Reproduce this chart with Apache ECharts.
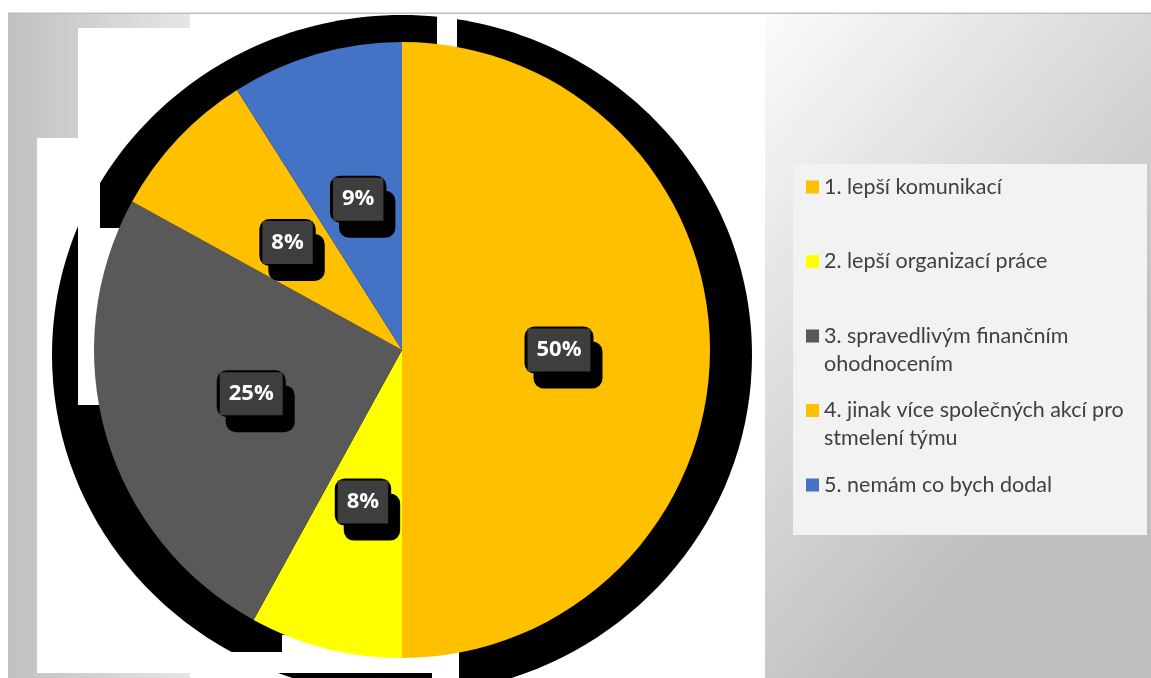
<!DOCTYPE html>
<html><head><meta charset="utf-8">
<script src="https://cdn.jsdelivr.net/npm/echarts@6/dist/echarts.min.js"></script>
<style>html,body{margin:0;padding:0;background:#fff}#c{width:1151px;height:678px}</style>
</head><body><div id="c"></div>
<script>
// Data
const categories = [
  '1. lepší komunikací',
  '2. lepší organizací práce',
  '3. spravedlivým finančním\nohodnocením',
  '4. jinak více společných akcí pro\nstmelení týmu',
  '5. nemám co bych dodal'
];
const values = [50, 8, 25, 8, 9];
const palette = ['#FFC000', '#FFFF00', '#595959', '#FFC000', '#4472C4'];

const chart = echarts.init(document.getElementById('c'), null, {renderer: 'canvas'});

function rect(x1, y1, x2, y2, fill, z) {
  return {type: 'rect', silent: true, z: z, shape: {x: x1, y: y1, width: x2 - x1, height: y2 - y1}, style: {fill: fill}};
}

const graphics = [
  rect(8, 12.5, 1151, 14, '#bfbfbf', 1),
  rect(8, 14, 1151, 678, new echarts.graphic.LinearGradient(0, 0, 1, 0, [
    {offset: 0, color: '#c0c0c0'}, {offset: 0.16, color: '#e6e6e6'},
    {offset: 0.66, color: '#f9f9f9'}, {offset: 1, color: '#c2c2c2'}]), 1),
  rect(762, 14, 1151, 678, new echarts.graphic.LinearGradient(0, 0, 1, 0.5, [
    {offset: 0, color: '#fbfbfb'}, {offset: 1, color: '#bfbfbf'}]), 2),
  // white plot region
  rect(37, 138, 765, 673, '#ffffff', 3),
  rect(80, 28, 765, 673, '#ffffff', 3),
  rect(190, 14, 765, 678, '#ffffff', 3),
  // black backdrop behind the pie
  {type: 'ellipse', silent: true, z: 4, shape: {cx: 402, cy: 355, rx: 350, ry: 340}, style: {fill: '#000'}},
  // white cut-outs in the backdrop
  rect(78, 28, 100, 228, '#ffffff', 5),
  rect(78, 228, 120, 405, '#ffffff', 5),
  rect(437, 14, 457, 47, '#ffffff', 5),
  rect(282, 635, 459, 673, '#ffffff', 5),
  rect(37, 652, 459, 673, '#ffffff', 5),
  rect(432, 673, 459, 678, '#ffffff', 5),
  // legend box
  rect(793, 164, 1147, 535, '#f2f2f2', 6)
];

const option = {
  animation: false,
  backgroundColor: '#ffffff',
  graphic: graphics,
  legend: {
    orient: 'vertical',
    left: 806,
    top: 145,
    z: 20,
    padding: 0,
    itemWidth: 13,
    itemHeight: 13,
    itemGap: -9.5,
    icon: 'rect',
    selectedMode: false,
    data: categories,
    formatter: function (name) {
      return name.indexOf('\n') >= 0 ? '\n' + name : '\n' + name + '\n';
    },
    textStyle: {color: '#404040', fontSize: 21.5, fontFamily: 'Lato', lineHeight: 28}
  },
  series: [{
    type: 'pie',
    z: 10,
    silent: true,
    center: [402, 350],
    radius: [0, 308],
    startAngle: 90,
    clockwise: true,
    avoidLabelOverlap: false,
    emphasis: {disabled: true},
    labelLine: {show: false},
    label: {
      show: true,
      position: 'inside',
      backgroundColor: '#000',
      borderRadius: 10,
      padding: [2, 3, 2, 3],
      shadowColor: '#000',
      shadowBlur: 0,
      shadowOffsetX: 9,
      shadowOffsetY: 15,
      formatter: function (p) { return '{t|' + p.value + '%}'; },
      rich: {
        t: {color: '#ffffff', fontWeight: 'bold', fontSize: 22, fontFamily: 'Open Sans',
            backgroundColor: '#3e3e3e', padding: [0, 9], height: 43, lineHeight: 43,
            verticalAlign: 'middle'}
      }
    },
    data: categories.map(function (c, i) {
      return {name: c, value: values[i], itemStyle: {color: palette[i]}};
    })
  }]
};
chart.setOption(option);
</script>
</body></html>
